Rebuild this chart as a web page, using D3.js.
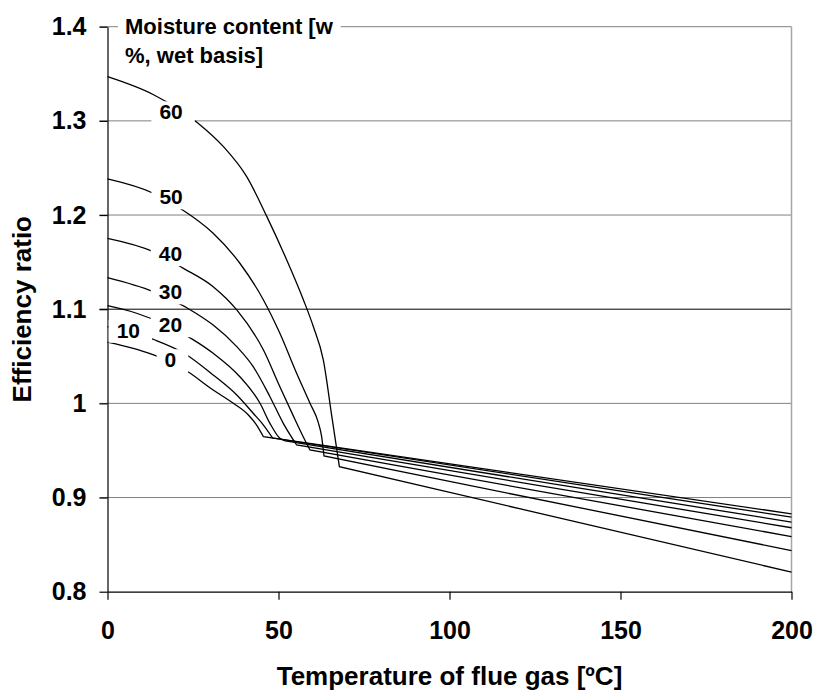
<!DOCTYPE html>
<html>
<head>
<meta charset="utf-8">
<script src="https://cdn.jsdelivr.net/npm/d3@7"></script>
<style>
  body { margin: 0; background: #fff; }
  svg { display: block; font-family: "Liberation Sans", Arial, sans-serif; font-weight: bold; }
</style>
</head>
<body>
<div class="svg-container"></div>
<script>
// moisture content of each curve [w%, wet basis]
const moisture = [0, 10, 20, 30, 40, 50, 60];

// flue gas temperature [ºC] / efficiency ratio
const temp0 = [0, 14.8, 22.4, 30.9, 36.8, 41.2, 43.6, 45.6, 200];
const ratio0 = [1.065, 1.0496, 1.0362, 1.0142, 1.0001, 0.9877, 0.977, 0.9646, 0.8827];

const temp10 = [0, 13.9, 22.4, 30.9, 37.8, 42.6, 45.6, 48.3, 200];
const ratio10 = [1.0814, 1.0673, 1.0532, 1.0301, 1.0089, 0.9895, 0.977, 0.9632, 0.8792];

const temp20 = [0, 8.5, 24.9, 30.9, 38.7, 44.6, 47.5, 50.4, 52.0, 200];
const ratio20 = [1.1037, 1.0957, 1.068, 1.0532, 1.0283, 1.0001, 0.9788, 0.9629, 0.9601, 0.8739];

const temp30 = [0, 13.4, 25.6, 30.9, 37.8, 42.6, 47.5, 51.4, 55.3, 200];
const ratio30 = [1.1335, 1.1186, 1.0963, 1.0832, 1.0602, 1.039, 1.0071, 0.9788, 0.9558, 0.8679];

const temp40 = [0, 13.4, 22.2, 30.9, 37.8, 45.6, 50.4, 54.3, 57.7, 59.2, 200];
const ratio40 = [1.1753, 1.1611, 1.1434, 1.1239, 1.0992, 1.0567, 1.0177, 0.9870, 0.9611, 0.9505, 0.8586];

const temp50 = [0, 13.4, 21.2, 30.9, 38.7, 45.6, 50.4, 55.3, 59.2, 61.6, 62.6, 63.3, 200];
const ratio50 = [1.2383, 1.2231, 1.2072, 1.1806, 1.1488, 1.1098, 1.0744, 1.0319, 1.0001, 0.98, 0.965, 0.9441, 0.8437];

const temp60 = [0, 13.6, 26.3, 33.9, 40.7, 46.6, 52.4, 57.3, 60.2, 63.1, 65.6, 67.8, 200];
const ratio60 = [1.3469, 1.3275, 1.2981, 1.2726, 1.2408, 1.1983, 1.1523, 1.1098, 1.0814, 1.0461, 0.9859, 0.9328, 0.8208];

const temps = [temp0, temp10, temp20, temp30, temp40, temp50, temp60];
const ratios = [ratio0, ratio10, ratio20, ratio30, ratio40, ratio50, ratio60];

// where the curve labels sit, in data units
const labelTemp = [18.4, 6.1, 18.4, 18.4, 18.4, 18.6, 18.6];
const labelRatio = [1.0462, 1.0775, 1.0833, 1.1183, 1.1589, 1.2192, 1.3094];

const xTicks = [0, 50, 100, 150, 200];
const yTicks = [0.8, 0.9, 1, 1.1, 1.2, 1.3, 1.4];

const legendTitle = ['Moisture content [w', '%, wet basis]'];

const renderChart = () => {
  // set up required dimensions
  const width = 815;
  const height = 690;
  const margin = { top: 26.7, right: 23.5, bottom: 98.3, left: 107.5 };

  const svg = d3.select('.svg-container')
    .append('svg')
    .attr('width', width)
    .attr('height', height);

  const x = d3.scaleLinear().domain([0, 200]).range([margin.left, width - margin.right]);
  const y = d3.scaleLinear().domain([0.8, 1.4]).range([height - margin.bottom, margin.top]);

  // horizontal gridlines (1.1 comes out darker in the original)
  svg.append('g')
    .selectAll('line')
    .data(yTicks.filter(d => d > 0.8))
    .enter()
    .append('line')
    .attr('x1', x(0) - 8)
    .attr('x2', x(200))
    .attr('y1', d => y(d))
    .attr('y2', d => y(d))
    .attr('stroke', d => d === 1.1 ? '#000' : '#808080')
    .attr('stroke-width', 1);

  // right border of the plot
  svg.append('line')
    .attr('x1', x(200)).attr('x2', x(200))
    .attr('y1', y(1.4)).attr('y2', y(0.8))
    .attr('stroke', '#a6a6a6')
    .attr('stroke-width', 1.5);

  // curves: smooth down to the knee, then a straight run to 200 ºC
  const curve = d3.line()
    .x(d => x(d[0]))
    .y(d => y(d[1]))
    .curve(d3.curveMonotoneX);

  const pathFor = pts => {
    const last = pts[pts.length - 1];
    return curve(pts.slice(0, -1)) + `L${x(last[0])},${y(last[1])}`;
  };

  svg.append('g')
    .selectAll('path')
    .data(moisture.map((m, i) => d3.zip(temps[i], ratios[i])))
    .enter()
    .append('path')
    .attr('d', pathFor)
    .attr('fill', 'none')
    .attr('stroke', '#000')
    .attr('stroke-width', 1.3);

  // axes
  const yAxis = svg.append('g')
    .attr('transform', `translate(${x(0)},0)`)
    .call(d3.axisLeft(y).tickValues(yTicks).tickSize(8).tickSizeOuter(0).tickPadding(13).tickFormat(d => d));

  const xAxis = svg.append('g')
    .attr('transform', `translate(0,${y(0.8)})`)
    .call(d3.axisBottom(x).tickValues(xTicks).tickSize(8).tickSizeOuter(0).tickPadding(22));

  [yAxis, xAxis].forEach(axis => {
    axis.selectAll('path, line').attr('stroke', '#000').attr('stroke-width', 1.2);
    axis.selectAll('text')
      .attr('fill', '#000')
      .style('font-size', '25px')
      .style('font-family', '"Liberation Sans", Arial, sans-serif')
      .style('font-weight', 'bold');
  });

  // curve labels on white boxes
  const labels = svg.append('g')
    .selectAll('g')
    .data(moisture)
    .enter()
    .append('g');

  labels.append('text')
    .attr('x', (d, i) => x(labelTemp[i]))
    .attr('y', (d, i) => y(labelRatio[i]))
    .attr('dy', '0.35em')
    .attr('text-anchor', 'middle')
    .style('font-size', '21px')
    .text(d => d);

  labels.each(function () {
    const g = d3.select(this);
    const box = g.select('text').node().getBBox();
    g.insert('rect', 'text')
      .attr('x', box.x - 8)
      .attr('y', box.y + 1)
      .attr('width', box.width + 20)
      .attr('height', box.height)
      .attr('fill', '#fff');
  });

  // legend title sitting on the top gridline
  const legend = svg.append('g');
  legend.selectAll('text')
    .data(legendTitle)
    .enter()
    .append('text')
    .attr('x', 125)
    .attr('y', (d, i) => y(1.4) + i * 28.3)
    .attr('dy', '0.35em')
    .style('font-size', '22px')
    .text(d => d);

  const lb = legend.node().getBBox();
  legend.insert('rect', 'text')
    .attr('x', lb.x - 7)
    .attr('y', lb.y)
    .attr('width', lb.width + 14)
    .attr('height', lb.height)
    .attr('fill', '#fff');

  // axis titles
  svg.append('text')
    .attr('x', (x(0) + x(200)) / 2)
    .attr('y', 685)
    .attr('text-anchor', 'middle')
    .style('font-size', '26px')
    .text('Temperature of flue gas [ºC]');

  svg.append('text')
    .attr('transform', `translate(31,${(y(0.8) + y(1.4)) / 2}) rotate(-90)`)
    .attr('text-anchor', 'middle')
    .style('font-size', '26px')
    .text('Efficiency ratio');
};

renderChart();
</script>
</body>
</html>
